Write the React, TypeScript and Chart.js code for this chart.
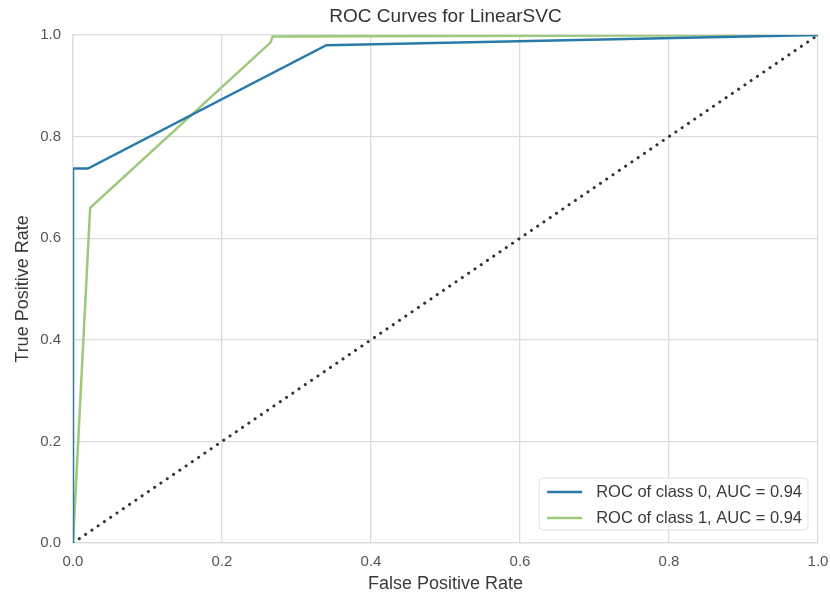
import React, { useEffect, useRef } from "react";
import { Chart, registerables } from "chart.js";

Chart.register(...registerables);

const titleText = "ROC Curves for LinearSVC";
const xTitle = "False Positive Rate";
const yTitle = "True Positive Rate";
const tickValues = [0, 0.2, 0.4, 0.6, 0.8, 1.0];

const class0Fpr = [0, 0, 0, 0.02, 0.34, 1.0];
const class0Tpr = [0, 0.53, 0.737, 0.737, 0.98, 1.0];
const class1Fpr = [0, 0.023, 0.265, 0.268, 1.0];
const class1Tpr = [0, 0.66, 0.985, 0.997, 1.0];
const diagX = [0, 1];
const diagY = [0, 1];

const labels = ["ROC of class 0, AUC = 0.94", "ROC of class 1, AUC = 0.94"];
const colors = ["#2a7aa9", "#9cc97a"];

const FONT = "'Liberation Sans', Arial, sans-serif";

const titlePlugin = {
  id: "axesTitle",
  afterDraw(chart: any) {
    const ctx = chart.ctx;
    const area = chart.chartArea;
    ctx.save();
    ctx.font = `19px ${FONT}`;
    ctx.fillStyle = "#333333";
    ctx.textAlign = "center";
    ctx.textBaseline = "middle";
    ctx.fillText(titleText, (area.left + area.right) / 2, 17);
    ctx.restore();
  },
};

const legendPlugin = {
  id: "insideLegend",
  afterDraw(chart: any) {
    const ctx = chart.ctx;
    const area = chart.chartArea;
    const items = chart.data.datasets.filter((d: any) => d.label);
    ctx.save();
    ctx.font = `16.5px ${FONT}`;
    const lineH = 26;
    const textW = Math.max(...items.map((d: any) => ctx.measureText(d.label).width));
    const w = 57 + textW + 6;
    const h = items.length * lineH;
    const x = area.right - 10 - w;
    const y = area.bottom - 13 - h;
    ctx.fillStyle = "rgba(255,255,255,0.8)";
    ctx.strokeStyle = "#e0e0e0";
    ctx.lineWidth = 1;
    ctx.beginPath();
    const r = 4;
    ctx.moveTo(x + r, y);
    ctx.lineTo(x + w - r, y);
    ctx.quadraticCurveTo(x + w, y, x + w, y + r);
    ctx.lineTo(x + w, y + h - r);
    ctx.quadraticCurveTo(x + w, y + h, x + w - r, y + h);
    ctx.lineTo(x + r, y + h);
    ctx.quadraticCurveTo(x, y + h, x, y + h - r);
    ctx.lineTo(x, y + r);
    ctx.quadraticCurveTo(x, y, x + r, y);
    ctx.closePath();
    ctx.fill();
    ctx.stroke();
    items.forEach((d: any, i: number) => {
      const cy = y + 14 + lineH * i;
      ctx.strokeStyle = d.borderColor;
      ctx.lineWidth = 2.5;
      ctx.beginPath();
      ctx.moveTo(x + 8, cy);
      ctx.lineTo(x + 43, cy);
      ctx.stroke();
      ctx.fillStyle = "#3a3a3a";
      ctx.textBaseline = "middle";
      ctx.textAlign = "left";
      ctx.fillText(d.label, x + 57, cy);
    });
    ctx.restore();
  },
};

export default function App() {
  const ref = useRef<HTMLCanvasElement | null>(null);
  useEffect(() => {
    document.body.style.margin = "0";
    const toPts = (xs: number[], ys: number[]) => xs.map((v, i) => ({ x: v, y: ys[i] }));
    const chart = new Chart(ref.current!, {
      type: "scatter",
      data: {
        datasets: [
          {
            label: labels[0],
            data: toPts(class0Fpr, class0Tpr),
            showLine: true,
            borderColor: colors[0],
            backgroundColor: colors[0],
            borderWidth: 2.5,
            pointRadius: 0,
            tension: 0,
          },
          {
            label: labels[1],
            data: toPts(class1Fpr, class1Tpr),
            showLine: true,
            borderColor: colors[1],
            backgroundColor: colors[1],
            borderWidth: 2.5,
            pointRadius: 0,
            tension: 0,
          },
          {
            label: "",
            data: toPts(diagX, diagY),
            showLine: true,
            borderColor: "#333333",
            borderWidth: 3,
            borderDash: [0.1, 7.5],
            borderCapStyle: "round",
            pointRadius: 0,
          },
        ],
      },
      options: {
        responsive: false,
        animation: false,
        layout: { padding: { top: 35, right: 12, bottom: 0, left: 0 } },
        plugins: {
          legend: { display: false },
          tooltip: { enabled: false },
          title: { display: false },
        },
        scales: {
          x: {
            type: "linear",
            min: 0,
            max: 1,
            afterBuildTicks: (s: any) => {
              s.ticks = tickValues.map((v) => ({ value: v }));
            },
            afterFit: (s: any) => {
              s.height = 55;
              s.paddingRight = 0;
              s.paddingLeft = 0;
            },
            ticks: {
              color: "#555555",
              font: { family: FONT, size: 15 },
              padding: 10,
              maxRotation: 0,
              callback: (v: any) => Number(v).toFixed(1),
            },
            grid: { color: "#dcdcdc", lineWidth: 1.3, tickLength: 0 },
            border: { color: "#dcdcdc", width: 1.3 },
            title: {
              display: true,
              text: xTitle,
              color: "#3a3a3a",
              font: { family: FONT, size: 18 },
              padding: { top: 2, bottom: 3 },
            },
          },
          y: {
            type: "linear",
            min: 0,
            max: 1,
            afterBuildTicks: (s: any) => {
              s.ticks = tickValues.map((v) => ({ value: v }));
            },
            afterFit: (s: any) => {
              s.width = 73;
            },
            ticks: {
              color: "#555555",
              font: { family: FONT, size: 15 },
              padding: 12,
              callback: (v: any) => Number(v).toFixed(1),
            },
            grid: { color: "#dcdcdc", lineWidth: 1.3, tickLength: 0 },
            border: { color: "#dcdcdc", width: 1.3 },
            title: {
              display: true,
              text: yTitle,
              color: "#3a3a3a",
              font: { family: FONT, size: 18 },
              padding: { top: 12, bottom: 4 },
            },
          },
        },
      },
      plugins: [titlePlugin, legendPlugin],
    });
    return () => chart.destroy();
  }, []);
  return <canvas ref={ref} width={830} height={598} style={{ display: "block" }} />;
}
